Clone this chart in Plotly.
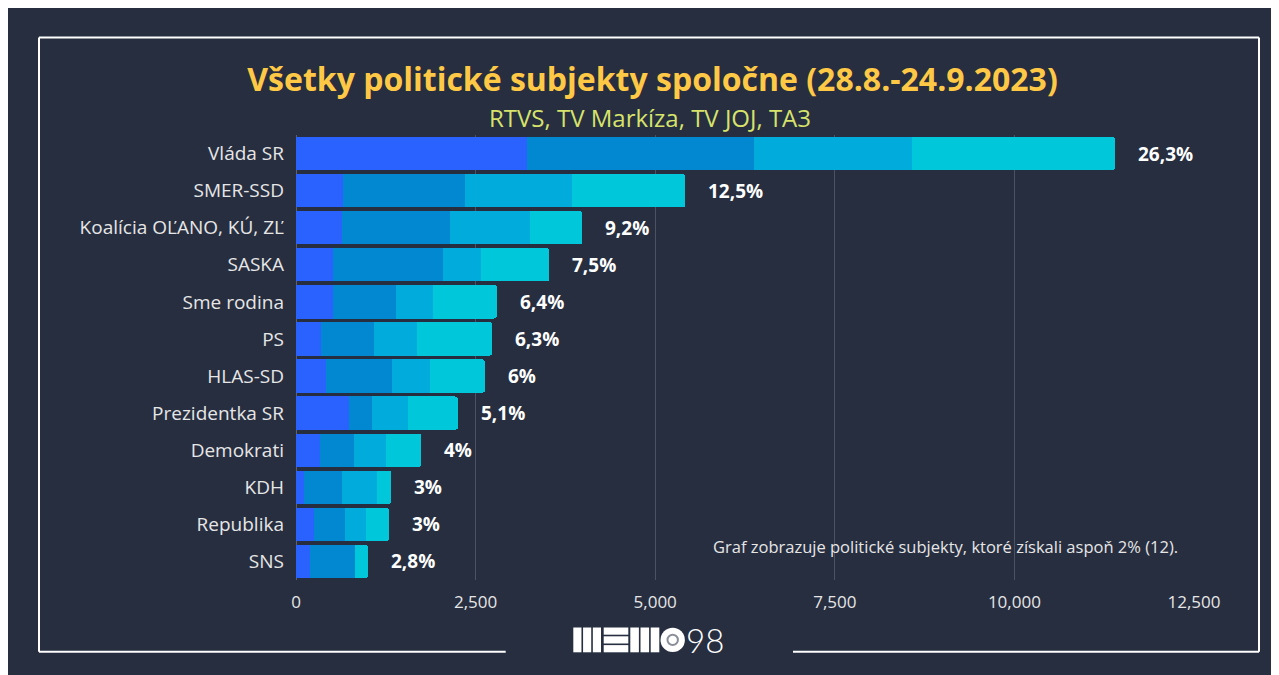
import plotly.graph_objects as go

parties = ["Vláda SR", "SMER-SSD", "Koalícia OĽANO, KÚ, ZĽ", "SASKA", "Sme rodina", "PS",
           "HLAS-SD", "Prezidentka SR", "Demokrati", "KDH", "Republika", "SNS"]
rtvs = [3211, 654, 640, 512, 519, 348, 413, 738, 334, 107, 251, 199]
markiza = [3170, 1693, 1498, 1537, 869, 734, 928, 316, 473, 538, 431, 622]
joj = [2199, 1499, 1126, 529, 523, 602, 520, 501, 446, 487, 297, 0]
ta3 = [2819, 1573, 723, 947, 887, 1049, 770, 700, 491, 195, 316, 185]
share_labels = ["26,3%", "12,5%", "9,2%", "7,5%", "6,4%", "6,3%", "6%", "5,1%", "4%", "3%", "3%", "2,8%"]
series_names = ["RTVS", "TV Markíza", "TV JOJ", "TA3"]
series_colors = ["#2962FF", "#0288D1", "#01ACDD", "#00C8DA"]
x_tick_vals = [0, 2500, 5000, 7500, 10000, 12500]
x_tick_text = ["0", "2,500", "5,000", "7,500", "10,000", "12,500"]

BG = "#262E40"
FONT = "Open Sans"
W, H = 1279, 675
ML, MR, MT, MB = 288, 93, 127, 103
PW, PH = W - ML - MR, H - MT - MB


def px(fx):
    return (fx - ML) / PW


def py(fy):
    return (H - MB - fy) / PH


fig = go.Figure()
for name, vals, col in zip(series_names, [rtvs, markiza, joj, ta3], series_colors):
    fig.add_trace(go.Bar(y=parties, x=vals, name=name, orientation="h",
                         marker=dict(color=col, line=dict(width=0)),
                         showlegend=False))

totals = [a + b + c + d for a, b, c, d in zip(rtvs, markiza, joj, ta3)]
annotations = []
for p, t, lab in zip(parties, totals, share_labels):
    annotations.append(dict(x=t, y=p, xref="x", yref="y", text=lab, showarrow=False,
                            xanchor="left", xshift=21,
                            font=dict(family=FONT, size=19, color="white", weight="bold")))

annotations.append(dict(x=px(703), y=py(538), xref="paper", yref="paper", xanchor="left",
                        yanchor="middle", showarrow=False,
                        text="Graf zobrazuje politické subjekty, ktoré získali aspoň 2% (12).",
                        font=dict(family=FONT, size=16.5, color="#E6E6E6")))
annotations.append(dict(x=px(641.5), y=py(110), xref="paper", yref="paper",
                        xanchor="center", yanchor="middle", showarrow=False,
                        text="RTVS, TV Markíza, TV JOJ, TA3",
                        font=dict(family=FONT, size=24, color="#D7E36A")))
# logo "98"
annotations.append(dict(x=px(676), y=py(632), xref="paper", yref="paper", xanchor="left",
                        yanchor="middle", showarrow=False, text="98",
                        font=dict(family="Lato", size=33, color="white", weight=300)))

shapes = []
# frame with gap for logo
frame = dict(type="line", xref="paper", yref="paper", line=dict(color="white", width=2))
L, R, T, B = 31, 1251, 29.5, 643.7
shapes.append({**frame, "x0": px(L), "x1": px(R), "y0": py(T), "y1": py(T)})
shapes.append({**frame, "x0": px(L), "x1": px(L), "y0": py(T), "y1": py(B)})
shapes.append({**frame, "x0": px(R), "x1": px(R), "y0": py(T), "y1": py(B)})
shapes.append({**frame, "x0": px(L), "x1": px(497.7), "y0": py(B), "y1": py(B)})
shapes.append({**frame, "x0": px(785), "x1": px(R), "y0": py(B), "y1": py(B)})

# logo blocks
blk = dict(type="rect", xref="paper", yref="paper", fillcolor="white", line=dict(width=0))
top, bot = 619.5, 644.3


def vbars(x0, x1, n):
    g = 1.6
    w = (x1 - x0 - g * (n - 1)) / n
    for i in range(n):
        a = x0 + i * (w + g)
        shapes.append({**blk, "x0": px(a), "x1": px(a + w), "y0": py(bot), "y1": py(top)})


vbars(565.3, 593, 3)
g = 1.6
hh = (bot - top - 2 * g) / 3
for i in range(3):
    a = top + i * (hh + g)
    shapes.append({**blk, "x0": px(595.7), "x1": px(620.3), "y0": py(a + hh), "y1": py(a)})
vbars(622.3, 651.3, 3)
cx, cy, r = 664.7, 631.9, 12.2
shapes.append(dict(type="circle", xref="paper", yref="paper", fillcolor="white",
                   line=dict(width=0), x0=px(cx - r), x1=px(cx + r), y0=py(cy + r), y1=py(cy - r)))
r2 = 5.2
shapes.append(dict(type="circle", xref="paper", yref="paper", fillcolor="white",
                   line=dict(width=2, color="#8A8F99"), x0=px(cx - r2), x1=px(cx + r2),
                   y0=py(cy + r2), y1=py(cy - r2)))

fig.update_layout(
    width=W, height=H,
    margin=dict(l=ML, r=MR, t=MT, b=MB),
    paper_bgcolor=BG, plot_bgcolor=BG,
    barmode="stack", bargap=0.1, barcornerradius=3,
    title=dict(text="Všetky politické subjekty spoločne (28.8.-24.9.2023)",
               x=644.5 / W, xanchor="center", y=1 - 72 / H, yanchor="middle",
               font=dict(family=FONT, size=32, color="#FFC845", weight="bold")),
    xaxis=dict(range=[0, 12500], tickvals=x_tick_vals, ticktext=x_tick_text,
               showgrid=True, gridcolor="#4A5264", gridwidth=1,
               zeroline=True, zerolinecolor="#5A6170", zerolinewidth=1,
               ticks="outside", ticklen=7, tickcolor=BG,
               tickfont=dict(family=FONT, size=17, color="#E6E6E6")),
    yaxis=dict(categoryorder="array", categoryarray=parties, autorange="reversed",
               showgrid=False, ticklabelstandoff=11,
               tickfont=dict(family=FONT, size=19, color="#E6E6E6")),
    annotations=annotations, shapes=shapes,
)

fig.write_html("out.html")
